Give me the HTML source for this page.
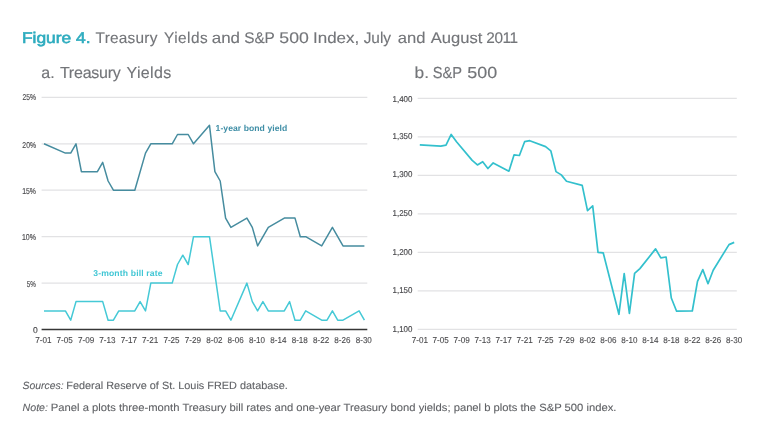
<!DOCTYPE html>
<html><head><meta charset="utf-8"><title>Figure 4</title>
<style>
html,body{margin:0;padding:0;background:#fff;}
body{width:768px;height:430px;overflow:hidden;font-family:"Liberation Sans", sans-serif;}
svg{display:block;will-change:transform;font-family:"Liberation Sans", sans-serif;}
</style></head><body>
<svg width="768" height="430" viewBox="0 0 768 430" text-rendering="geometricPrecision">
<rect width="768" height="430" fill="#fff"/>
<text transform="translate(23.30,42.90) scale(1.1307,1)" x="-1.26" y="0" font-size="15.40" fill="#2eacbf" stroke="#2eacbf" stroke-width="0.60">Figure 4.</text>
<text x="95.62" y="42.90" font-size="15.40" fill="#737579" stroke="#737579" stroke-width="0.12" style="letter-spacing:0.224px">Treasury</text>
<text x="164.02" y="42.90" font-size="15.40" fill="#737579" stroke="#737579" stroke-width="0.12" style="letter-spacing:0.459px">Yields</text>
<text transform="translate(212.46,42.90) scale(1.1008,1)" x="-0.65" y="0" font-size="15.40" fill="#737579" stroke="#737579" stroke-width="0.12">and</text>
<text x="244.37" y="42.90" font-size="15.40" fill="#737579" stroke="#737579" stroke-width="0.12" style="letter-spacing:-0.171px">S&amp;P</text>
<text transform="translate(280.06,42.90) scale(1.1509,1)" x="-0.62" y="0" font-size="15.40" fill="#737579" stroke="#737579" stroke-width="0.12">500</text>
<text transform="translate(314.56,42.90) scale(1.1030,1)" x="-1.42" y="0" font-size="15.40" fill="#737579" stroke="#737579" stroke-width="0.12">Index,</text>
<text x="363.63" y="42.90" font-size="15.40" fill="#737579" stroke="#737579" stroke-width="0.12" style="letter-spacing:0.020px">July</text>
<text transform="translate(398.46,42.90) scale(1.0800,1)" x="-0.65" y="0" font-size="15.40" fill="#737579" stroke="#737579" stroke-width="0.12">and</text>
<text transform="translate(430.76,42.90) scale(1.0770,1)" x="-0.03" y="0" font-size="15.40" fill="#737579" stroke="#737579" stroke-width="0.12">August</text>
<text x="486.29" y="42.90" font-size="15.40" fill="#737579" stroke="#737579" stroke-width="0.12" style="letter-spacing:-0.440px">2011</text>
<text x="41.20" y="78.00" font-size="16.00" fill="#737579" stroke="#737579" stroke-width="0.15" style="letter-spacing:0.234px">a.</text>
<text x="59.92" y="78.00" font-size="16.00" fill="#737579" stroke="#737579" stroke-width="0.15" style="letter-spacing:-0.228px">Treasury</text>
<text x="126.52" y="78.00" font-size="16.00" fill="#737579" stroke="#737579" stroke-width="0.15" style="letter-spacing:0.337px">Yields</text>
<text transform="translate(415.68,77.80) scale(1.0816,1)" x="-1.02" y="0" font-size="16.00" fill="#737579" stroke="#737579" stroke-width="0.15">b.</text>
<text transform="translate(433.47,77.80) scale(0.9142,1)" x="-0.72" y="0" font-size="16.00" fill="#737579" stroke="#737579" stroke-width="0.15">S&amp;P</text>
<text transform="translate(467.97,77.80) scale(1.1183,1)" x="-0.64" y="0" font-size="16.00" fill="#737579" stroke="#737579" stroke-width="0.15">500</text>
<line x1="41.6" x2="367.3" y1="283.1" y2="283.1" stroke="#e2e2e4" stroke-width="1.3"/>
<line x1="41.6" x2="367.3" y1="236.7" y2="236.7" stroke="#e2e2e4" stroke-width="1.3"/>
<line x1="41.6" x2="367.3" y1="190.2" y2="190.2" stroke="#e2e2e4" stroke-width="1.3"/>
<line x1="41.6" x2="367.3" y1="143.8" y2="143.8" stroke="#e2e2e4" stroke-width="1.3"/>
<line x1="41.6" x2="367.3" y1="97.4" y2="97.4" stroke="#e2e2e4" stroke-width="1.3"/>
<line x1="41.6" x2="367.3" y1="329.5" y2="329.5" stroke="#363636" stroke-width="1.5"/>
<text transform="translate(22.77,100.05) scale(0.7952,1)" x="-0.43" y="0" font-size="8.50" fill="#4a4a4d" stroke="#4a4a4d" stroke-width="0.15">25%</text>
<text transform="translate(22.68,147.57) scale(0.8013,1)" x="-0.43" y="0" font-size="8.50" fill="#4a4a4d" stroke="#4a4a4d" stroke-width="0.15">20%</text>
<text transform="translate(22.68,194.49) scale(0.8123,1)" x="-0.65" y="0" font-size="8.50" fill="#4a4a4d" stroke="#4a4a4d" stroke-width="0.15">15%</text>
<text transform="translate(22.47,239.81) scale(0.8248,1)" x="-0.65" y="0" font-size="8.50" fill="#4a4a4d" stroke="#4a4a4d" stroke-width="0.15">10%</text>
<text transform="translate(27.07,286.73) scale(0.7428,1)" x="-0.34" y="0" font-size="8.50" fill="#4a4a4d" stroke="#4a4a4d" stroke-width="0.15">5%</text>
<text x="33.04" y="332.75" font-size="8.50" fill="#4a4a4d" stroke="#4a4a4d" stroke-width="0.15">0</text>
<text transform="translate(35.65,343.20) scale(0.9476,1)" x="-0.44" y="0" font-size="8.60" fill="#4a4a4d" stroke="#4a4a4d" stroke-width="0.10">7-01</text>
<text transform="translate(57.01,343.20) scale(0.9441,1)" x="-0.44" y="0" font-size="8.60" fill="#4a4a4d" stroke="#4a4a4d" stroke-width="0.10">7-05</text>
<text transform="translate(78.37,343.20) scale(0.9471,1)" x="-0.44" y="0" font-size="8.60" fill="#4a4a4d" stroke="#4a4a4d" stroke-width="0.10">7-09</text>
<text transform="translate(99.73,343.20) scale(0.9451,1)" x="-0.44" y="0" font-size="8.60" fill="#4a4a4d" stroke="#4a4a4d" stroke-width="0.10">7-13</text>
<text transform="translate(121.09,343.20) scale(0.9486,1)" x="-0.44" y="0" font-size="8.60" fill="#4a4a4d" stroke="#4a4a4d" stroke-width="0.10">7-17</text>
<text transform="translate(142.45,343.20) scale(0.9476,1)" x="-0.44" y="0" font-size="8.60" fill="#4a4a4d" stroke="#4a4a4d" stroke-width="0.10">7-21</text>
<text transform="translate(163.81,343.20) scale(0.9441,1)" x="-0.44" y="0" font-size="8.60" fill="#4a4a4d" stroke="#4a4a4d" stroke-width="0.10">7-25</text>
<text transform="translate(185.17,343.20) scale(0.9471,1)" x="-0.44" y="0" font-size="8.60" fill="#4a4a4d" stroke="#4a4a4d" stroke-width="0.10">7-29</text>
<text transform="translate(206.53,343.20) scale(0.9446,1)" x="-0.37" y="0" font-size="8.60" fill="#4a4a4d" stroke="#4a4a4d" stroke-width="0.10">8-02</text>
<text transform="translate(227.89,343.20) scale(0.9412,1)" x="-0.37" y="0" font-size="8.60" fill="#4a4a4d" stroke="#4a4a4d" stroke-width="0.10">8-06</text>
<text transform="translate(249.25,343.20) scale(0.9387,1)" x="-0.37" y="0" font-size="8.60" fill="#4a4a4d" stroke="#4a4a4d" stroke-width="0.10">8-10</text>
<text transform="translate(270.61,343.20) scale(0.9343,1)" x="-0.37" y="0" font-size="8.60" fill="#4a4a4d" stroke="#4a4a4d" stroke-width="0.10">8-14</text>
<text transform="translate(291.97,343.20) scale(0.9412,1)" x="-0.37" y="0" font-size="8.60" fill="#4a4a4d" stroke="#4a4a4d" stroke-width="0.10">8-18</text>
<text transform="translate(313.33,343.20) scale(0.9446,1)" x="-0.37" y="0" font-size="8.60" fill="#4a4a4d" stroke="#4a4a4d" stroke-width="0.10">8-22</text>
<text transform="translate(334.69,343.20) scale(0.9412,1)" x="-0.37" y="0" font-size="8.60" fill="#4a4a4d" stroke="#4a4a4d" stroke-width="0.10">8-26</text>
<text transform="translate(356.05,343.20) scale(0.9387,1)" x="-0.37" y="0" font-size="8.60" fill="#4a4a4d" stroke="#4a4a4d" stroke-width="0.10">8-30</text>
<path d="M44.0,143.8 L65.4,153.1 L70.7,153.1 L76.0,143.8 L81.4,171.7 L97.4,171.7 L102.7,162.4 L108.1,181.0 L113.4,190.2 L118.8,190.2 L134.8,190.2 L145.5,153.1 L150.8,143.8 L156.1,143.8 L172.2,143.8 L177.5,134.5 L182.8,134.5 L188.2,134.5 L193.5,143.8 L209.5,125.3 L214.9,171.7 L220.2,181.0 L225.6,218.1 L230.9,227.4 L246.9,218.1 L252.3,227.4 L257.6,245.9 L268.3,227.4 L284.3,218.1 L289.6,218.1 L295.0,218.1 L300.3,236.7 L305.7,236.7 L321.7,245.9 L332.4,227.4 L343.0,245.9 L359.1,245.9 L364.4,245.9" fill="none" stroke="#468c9f" stroke-width="1.5" stroke-linejoin="round"/>
<path d="M44.0,310.9 L65.4,310.9 L70.7,320.2 L76.0,301.6 L102.7,301.6 L108.1,320.2 L113.4,320.2 L118.8,310.9 L134.8,310.9 L140.1,301.6 L145.5,310.9 L150.8,283.1 L172.2,283.1 L177.5,264.5 L182.8,255.2 L188.2,264.5 L193.5,236.7 L209.5,236.7 L220.2,310.9 L225.6,310.9 L230.9,320.2 L246.9,283.1 L252.3,301.6 L257.6,310.9 L262.9,301.6 L268.3,310.9 L284.3,310.9 L289.6,301.6 L295.0,320.2 L300.3,320.2 L305.7,310.9 L321.7,320.2 L327.0,320.2 L332.4,310.9 L337.7,320.2 L343.0,320.2 L359.1,310.9 L364.4,320.2" fill="none" stroke="#45c9d6" stroke-width="1.5" stroke-linejoin="round"/>
<text x="215.57" y="131.00" font-size="8.60" fill="#3f8ea6" font-weight="bold" style="letter-spacing:0.060px">1-year bond yield</text>
<text x="93.21" y="275.80" font-size="8.60" fill="#40c6d4" font-weight="bold" style="letter-spacing:0.156px">3-month bill rate</text>
<line x1="417.7" x2="736.8" y1="329.3" y2="329.3" stroke="#e2e2e4" stroke-width="1.3"/>
<text transform="translate(393.18,331.90) scale(0.9336,1)" x="-0.65" y="0" font-size="8.50" fill="#4a4a4d" stroke="#4a4a4d" stroke-width="0.15">1,100</text>
<line x1="417.7" x2="736.8" y1="290.8" y2="290.8" stroke="#e2e2e4" stroke-width="1.3"/>
<text transform="translate(393.18,292.97) scale(0.9336,1)" x="-0.65" y="0" font-size="8.50" fill="#4a4a4d" stroke="#4a4a4d" stroke-width="0.15">1,150</text>
<line x1="417.7" x2="736.8" y1="252.3" y2="252.3" stroke="#e2e2e4" stroke-width="1.3"/>
<text transform="translate(393.18,254.88) scale(0.9336,1)" x="-0.65" y="0" font-size="8.50" fill="#4a4a4d" stroke="#4a4a4d" stroke-width="0.15">1,200</text>
<line x1="417.7" x2="736.8" y1="213.9" y2="213.9" stroke="#e2e2e4" stroke-width="1.3"/>
<text transform="translate(393.18,215.80) scale(0.9336,1)" x="-0.65" y="0" font-size="8.50" fill="#4a4a4d" stroke="#4a4a4d" stroke-width="0.15">1,250</text>
<line x1="417.7" x2="736.8" y1="175.4" y2="175.4" stroke="#e2e2e4" stroke-width="1.3"/>
<text transform="translate(393.18,177.12) scale(0.9336,1)" x="-0.65" y="0" font-size="8.50" fill="#4a4a4d" stroke="#4a4a4d" stroke-width="0.15">1,300</text>
<line x1="417.7" x2="736.8" y1="136.9" y2="136.9" stroke="#e2e2e4" stroke-width="1.3"/>
<text transform="translate(393.18,138.83) scale(0.9336,1)" x="-0.65" y="0" font-size="8.50" fill="#4a4a4d" stroke="#4a4a4d" stroke-width="0.15">1,350</text>
<line x1="417.7" x2="736.8" y1="98.4" y2="98.4" stroke="#e2e2e4" stroke-width="1.3"/>
<text transform="translate(393.18,101.85) scale(0.9336,1)" x="-0.65" y="0" font-size="8.50" fill="#4a4a4d" stroke="#4a4a4d" stroke-width="0.15">1,400</text>
<text transform="translate(412.05,342.60) scale(0.9476,1)" x="-0.44" y="0" font-size="8.60" fill="#4a4a4d" stroke="#4a4a4d" stroke-width="0.10">7-01</text>
<text transform="translate(433.01,342.60) scale(0.9441,1)" x="-0.44" y="0" font-size="8.60" fill="#4a4a4d" stroke="#4a4a4d" stroke-width="0.10">7-05</text>
<text transform="translate(453.97,342.60) scale(0.9471,1)" x="-0.44" y="0" font-size="8.60" fill="#4a4a4d" stroke="#4a4a4d" stroke-width="0.10">7-09</text>
<text transform="translate(474.93,342.60) scale(0.9451,1)" x="-0.44" y="0" font-size="8.60" fill="#4a4a4d" stroke="#4a4a4d" stroke-width="0.10">7-13</text>
<text transform="translate(495.89,342.60) scale(0.9486,1)" x="-0.44" y="0" font-size="8.60" fill="#4a4a4d" stroke="#4a4a4d" stroke-width="0.10">7-17</text>
<text transform="translate(516.85,342.60) scale(0.9476,1)" x="-0.44" y="0" font-size="8.60" fill="#4a4a4d" stroke="#4a4a4d" stroke-width="0.10">7-21</text>
<text transform="translate(537.81,342.60) scale(0.9441,1)" x="-0.44" y="0" font-size="8.60" fill="#4a4a4d" stroke="#4a4a4d" stroke-width="0.10">7-25</text>
<text transform="translate(558.77,342.60) scale(0.9471,1)" x="-0.44" y="0" font-size="8.60" fill="#4a4a4d" stroke="#4a4a4d" stroke-width="0.10">7-29</text>
<text transform="translate(579.73,342.60) scale(0.9446,1)" x="-0.37" y="0" font-size="8.60" fill="#4a4a4d" stroke="#4a4a4d" stroke-width="0.10">8-02</text>
<text transform="translate(600.69,342.60) scale(0.9412,1)" x="-0.37" y="0" font-size="8.60" fill="#4a4a4d" stroke="#4a4a4d" stroke-width="0.10">8-06</text>
<text transform="translate(621.65,342.60) scale(0.9387,1)" x="-0.37" y="0" font-size="8.60" fill="#4a4a4d" stroke="#4a4a4d" stroke-width="0.10">8-10</text>
<text transform="translate(642.61,342.60) scale(0.9343,1)" x="-0.37" y="0" font-size="8.60" fill="#4a4a4d" stroke="#4a4a4d" stroke-width="0.10">8-14</text>
<text transform="translate(663.57,342.60) scale(0.9412,1)" x="-0.37" y="0" font-size="8.60" fill="#4a4a4d" stroke="#4a4a4d" stroke-width="0.10">8-18</text>
<text transform="translate(684.53,342.60) scale(0.9446,1)" x="-0.37" y="0" font-size="8.60" fill="#4a4a4d" stroke="#4a4a4d" stroke-width="0.10">8-22</text>
<text transform="translate(705.49,342.60) scale(0.9412,1)" x="-0.37" y="0" font-size="8.60" fill="#4a4a4d" stroke="#4a4a4d" stroke-width="0.10">8-26</text>
<text transform="translate(726.45,342.60) scale(0.9387,1)" x="-0.37" y="0" font-size="8.60" fill="#4a4a4d" stroke="#4a4a4d" stroke-width="0.10">8-30</text>
<path d="M419.8,144.8 L440.8,146.2 L446.0,145.2 L451.2,134.4 L456.5,141.7 L472.2,160.4 L477.4,164.9 L482.7,161.7 L487.9,168.5 L493.2,162.9 L508.9,171.2 L514.1,154.8 L519.4,155.5 L524.6,141.7 L529.8,140.7 L545.6,146.6 L550.8,150.8 L556.0,171.6 L561.3,174.9 L566.5,181.3 L582.2,185.4 L587.5,210.7 L592.7,205.9 L598.0,252.3 L603.2,252.8 L618.9,314.3 L624.2,273.5 L629.4,313.3 L634.6,273.4 L639.9,268.6 L655.6,248.9 L660.8,257.9 L666.1,257.0 L671.3,298.0 L676.6,311.2 L692.3,311.0 L697.5,281.3 L702.8,269.6 L708.0,283.7 L713.2,270.2 L729.0,244.6 L734.2,242.4" fill="none" stroke="#33c0cd" stroke-width="1.7" stroke-linejoin="round"/>
<text transform="translate(22.85,389.30) scale(0.9897,1)" x="-0.29" y="0" font-size="10.50" fill="#606266" font-style="italic" stroke="#606266" stroke-width="0.10">Sources:</text>
<text transform="translate(67.15,389.30) scale(1.0373,1)" x="-0.86" y="0" font-size="10.50" fill="#606266" stroke="#606266" stroke-width="0.10">Federal Reserve of St. Louis FRED database.</text>
<text transform="translate(22.85,410.50) scale(1.0140,1)" x="-0.32" y="0" font-size="10.50" fill="#606266" font-style="italic" stroke="#606266" stroke-width="0.10">Note:</text>
<text transform="translate(51.75,410.50) scale(1.0700,1)" x="-0.86" y="0" font-size="10.50" fill="#606266" stroke="#606266" stroke-width="0.10">Panel a plots three-month Treasury bill rates and one-year Treasury bond yields; panel b plots the S&amp;P 500 index.</text>
</svg>
</body></html>
